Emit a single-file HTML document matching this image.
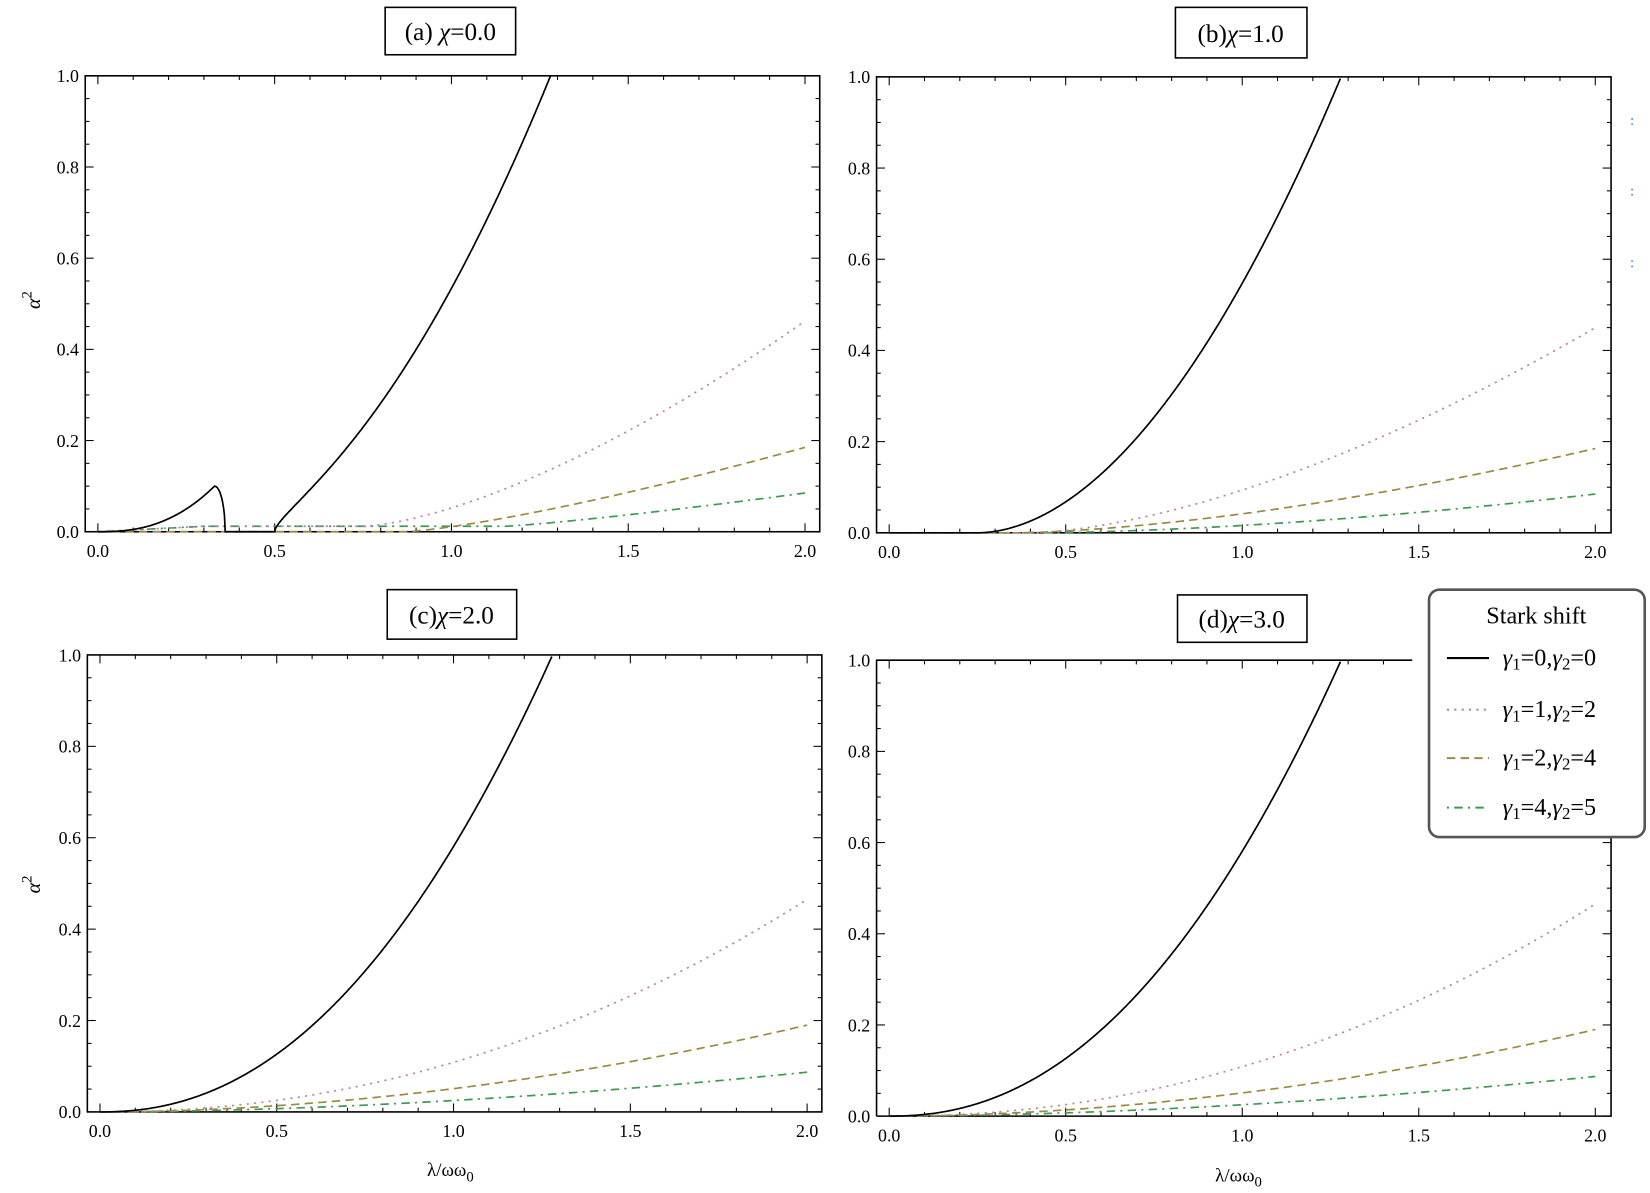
<!DOCTYPE html>
<html><head><meta charset="utf-8"><style>
html,body{margin:0;padding:0;background:#fff;}
svg{display:block;}
text{font-family:"Liberation Serif",serif;}
</style></head><body>
<svg id="s" width="1650" height="1193" viewBox="0 0 1568 1133" preserveAspectRatio="none" xmlns="http://www.w3.org/2000/svg">
<rect width="1568" height="1133" fill="#fff"/>
<g id="g"></g>
<rect x="366" y="7" width="124" height="45" fill="#fff" stroke="#000" stroke-width="1.5"/>
<text x="428" y="38" font-size="24" text-anchor="middle">(a) <tspan font-style="italic">χ</tspan>=0.0</text>
<rect x="1117" y="7" width="125" height="48" fill="#fff" stroke="#000" stroke-width="1.5"/>
<text x="1179" y="40" font-size="24" text-anchor="middle">(b)<tspan font-style="italic">χ</tspan>=1.0</text>
<rect x="368" y="560" width="123" height="47" fill="#fff" stroke="#000" stroke-width="1.5"/>
<text x="429" y="592" font-size="24" text-anchor="middle">(c)<tspan font-style="italic">χ</tspan>=2.0</text>
<rect x="1119" y="565" width="123" height="45" fill="#fff" stroke="#000" stroke-width="1.5"/>
<text x="1180" y="596" font-size="24" text-anchor="middle">(d)<tspan font-style="italic">χ</tspan>=3.0</text>
<text transform="translate(38,285) rotate(-90)" font-size="19" text-anchor="middle" font-style="italic">α<tspan dy="-8" font-size="14" font-style="normal">2</tspan></text>
<text transform="translate(38,840) rotate(-90)" font-size="19" text-anchor="middle" font-style="italic">α<tspan dy="-8" font-size="14" font-style="normal">2</tspan></text>
<text x="428" y="1117" font-size="18" text-anchor="middle">λ/ωω<tspan dy="5" font-size="14">0</tspan></text>
<text x="1177" y="1122" font-size="18" text-anchor="middle">λ/ωω<tspan dy="5" font-size="14">0</tspan></text>
<g fill="#5aa0e0"><circle cx="1551" cy="113" r="1"/><circle cx="1551" cy="118" r="1"/><circle cx="1551" cy="180" r="1"/><circle cx="1551" cy="185" r="1"/><circle cx="1551" cy="248" r="1"/><circle cx="1551" cy="253" r="1"/></g>
<rect x="1358" y="560" width="205" height="235" rx="10" ry="10" fill="#fff" stroke="#555" stroke-width="2.5"/>
<text x="1460" y="592" font-size="23" text-anchor="middle">Stark shift</text>
<g font-size="23" font-style="italic">
<line x1="1375" y1="625" x2="1415" y2="625" stroke="#000" stroke-width="2"/>
<text x="1428" y="632">γ<tspan font-style="normal" font-size="16" dy="4">1</tspan><tspan font-style="normal" dy="-4">=0,</tspan>γ<tspan font-style="normal" font-size="16" dy="4">2</tspan><tspan font-style="normal" dy="-4">=0</tspan></text>
<line x1="1375" y1="674" x2="1415" y2="674" stroke="#c080a8" stroke-width="2" stroke-dasharray="2,5"/>
<text x="1428" y="681">γ<tspan font-style="normal" font-size="16" dy="4">1</tspan><tspan font-style="normal" dy="-4">=1,</tspan>γ<tspan font-style="normal" font-size="16" dy="4">2</tspan><tspan font-style="normal" dy="-4">=2</tspan></text>
<line x1="1375" y1="720" x2="1415" y2="720" stroke="#9a8a40" stroke-width="2" stroke-dasharray="8,5"/>
<text x="1428" y="727">γ<tspan font-style="normal" font-size="16" dy="4">1</tspan><tspan font-style="normal" dy="-4">=2,</tspan>γ<tspan font-style="normal" font-size="16" dy="4">2</tspan><tspan font-style="normal" dy="-4">=4</tspan></text>
<line x1="1375" y1="767" x2="1415" y2="767" stroke="#3a9a50" stroke-width="2" stroke-dasharray="2,5,8,5"/>
<text x="1428" y="774">γ<tspan font-style="normal" font-size="16" dy="4">1</tspan><tspan font-style="normal" dy="-4">=4,</tspan>γ<tspan font-style="normal" font-size="16" dy="4">2</tspan><tspan font-style="normal" dy="-4">=5</tspan></text>
</g>
</svg>
<script>
var g=document.getElementById('g');var h='';
var P=[{l:81,r:779,t:72,b:505,x0:93,x2:765,k:'a'},{l:833,r:1531,t:73,b:506,x0:845,x2:1516,k:'b'},{l:83,r:781,t:622,b:1056,x0:95,x2:767,k:'c'},{l:833,r:1531,t:627,b:1060,x0:845,x2:1516,k:'d'}];
function ramp(x,x0,end,p){return x<=x0?0:end*Math.pow((x-x0)/(2-x0),p);}
function blackA(x){
 if(x<=0.33)return 0.1*Math.pow(x/0.33,2.5);
 if(x<0.36){var u=(x-0.33)/0.03;return 0.1*Math.sqrt(Math.max(0,1-u*u));}
 if(x<=0.5)return 0;
 var d=x-0.5;return 0.12*Math.sqrt(d)+0.456*d+0.884*d*d;}
P.forEach(function(p){
 var sx=(p.x2-p.x0)/2, H=p.b-p.t;
 function X(v){return p.x0+v*sx;} function Y(v){return p.b-v*H;}
 var sq=(p.k=='d');
 if(sq){h+='<path d="M'+p.l+' '+p.b+'V'+p.t+'H1342M1531 795V'+p.b+'H'+p.l+'" fill="none" stroke="#000" stroke-width="1.5"/>';}
 else h+='<rect x="'+p.l+'" y="'+p.t+'" width="'+(p.r-p.l)+'" height="'+H+'" fill="none" stroke="#000" stroke-width="1.5"/>';
 for(var i=0;i<=21;i++){var v=i*0.1;var x=X(v);if(x>p.r)break;var L=(i%5==0)?8:4;
  h+='<line x1="'+x+'" y1="'+p.b+'" x2="'+x+'" y2="'+(p.b-L)+'" stroke="#000"/>';
  if(!(sq&&x>1342))h+='<line x1="'+x+'" y1="'+p.t+'" x2="'+x+'" y2="'+(p.t+L)+'" stroke="#000"/>';
  if(i%5==0)h+='<text x="'+x+'" y="'+(p.b+24)+'" font-size="17" text-anchor="middle">'+v.toFixed(1)+'</text>';}
 for(var j=0;j<=20;j++){var v=j*0.05;var y=Y(v);var L=(j%4==0)?8:4;
  h+='<line x1="'+p.l+'" y1="'+y+'" x2="'+(p.l+L)+'" y2="'+y+'" stroke="#000"/>';
  if(!(sq&&y<795))h+='<line x1="'+p.r+'" y1="'+y+'" x2="'+(p.r-L)+'" y2="'+y+'" stroke="#000"/>';
  if(j%4==0)h+='<text x="'+(p.l-6)+'" y="'+(y+6)+'" font-size="17" text-anchor="end">'+v.toFixed(1)+'</text>';}
 function path(f,col,dash,w,xs,xe){var d='';for(var v=xs;v<=xe+1e-9;v+=0.002){var y=f(v);if(y>1)break;d+=(d?'L':'M')+X(v).toFixed(1)+' '+Y(y).toFixed(1);}
  h+='<path d="'+d+'" fill="none" stroke="'+col+'" stroke-width="'+w+'"'+(dash?' stroke-dasharray="'+dash+'"':'')+'/>';}
 var pink,ol,gr,bl;
 if(p.k=='a'){bl=blackA;
  pink=function(x){return x<0.75?0.012*Math.min(1,x/0.3):0.012+ramp(x,0.75,0.45,1.5);};
  ol=function(x){return ramp(x,0.87,0.185,1.3);};
  gr=function(x){return x<1.15?0.012*Math.min(1,x/0.3):0.012+ramp(x,1.15,0.073,1.2);};}
 else if(p.k=='b'){bl=function(x){return ramp(x,0.25,1.0*Math.pow(1.75/1.03,1.9),1.9);};
  pink=function(x){return ramp(x,0.4,0.45,1.6);};ol=function(x){return ramp(x,0.35,0.185,1.6);};gr=function(x){return ramp(x,0.4,0.085,1.7);};}
 else{bl=function(x){return Math.pow(x/1.28,2.2);};
  pink=function(x){return 0.465*Math.pow(x/2,2.1);};ol=function(x){return 0.19*Math.pow(x/2,1.9);};gr=function(x){return 0.087*Math.pow(x/2,1.8);};}
 path(gr,'#3a9a50','2,5,8,5',1.6,0,2);
 path(ol,'#9a8a40','8,5',1.6,0,2);
 path(pink,'#c080a8','2,5',1.6,0,2);
 path(bl,'#000',null,1.6,0,2);
});
g.innerHTML=h;
</script>
</body></html>
